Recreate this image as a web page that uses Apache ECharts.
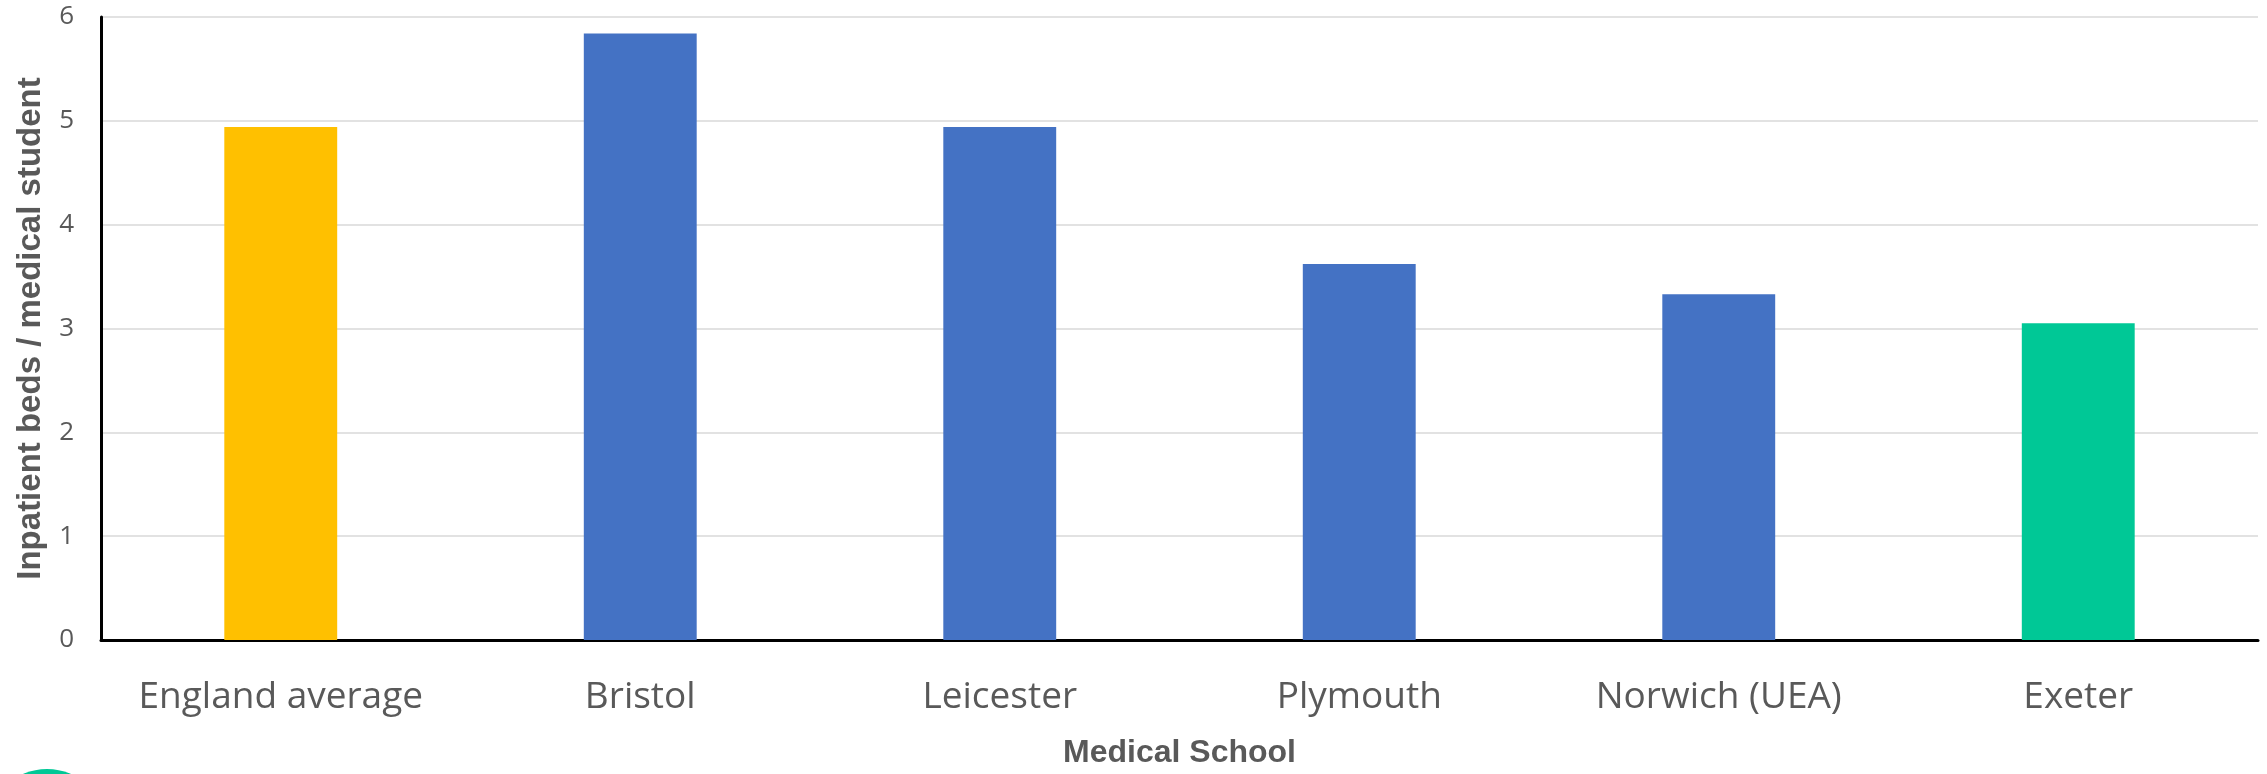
<!DOCTYPE html>
<html>
<head>
<meta charset="utf-8">
<script src="https://cdn.jsdelivr.net/npm/echarts@6/dist/echarts.min.js"></script>
<style>
html,body{margin:0;padding:0;background:#fff;}
#chart{width:2267px;height:774px;}
</style>
</head>
<body>
<div id="chart"></div>
<script>
const categories = ['England average', 'Bristol', 'Leicester', 'Plymouth', 'Norwich (UEA)', 'Exeter'];
const bedsPerStudent = [4.94, 5.84, 4.94, 3.62, 3.33, 3.05];
const yTicks = [0, 1, 2, 3, 4, 5, 6];
const barColors = ['#FFC000', '#4472C4', '#4472C4', '#4472C4', '#4472C4', '#00C896'];

const chart = echarts.init(document.getElementById('chart'), null, {renderer: 'canvas'});
chart.setOption({
  animation: false,
  backgroundColor: '#ffffff',
  grid: {left: 101, right: 9, top: 17, bottom: 127, containLabel: false},
  xAxis: {
    type: 'category',
    data: categories,
    name: 'Medical School',
    nameLocation: 'middle',
    nameGap: 97,
    nameTextStyle: {fontFamily: 'Liberation Sans', fontWeight: 'bold', fontSize: 32, color: '#595959'},
    axisLine: {show: true, lineStyle: {color: '#000000', width: 3}},
    axisTick: {show: false},
    axisLabel: {fontFamily: 'Open Sans', fontSize: 37, color: '#595959', margin: 39, interval: 0}
  },
  yAxis: {
    type: 'value',
    min: yTicks[0],
    max: yTicks[yTicks.length - 1],
    interval: 1,
    name: 'Inpatient beds / medical student',
    nameLocation: 'middle',
    nameGap: 54,
    nameRotate: 90,
    nameTextStyle: {fontFamily: 'Liberation Sans', fontWeight: 'bold', fontSize: 33, color: '#595959'},
    axisLine: {show: true, lineStyle: {color: '#000000', width: 3}},
    axisTick: {show: false},
    axisLabel: {fontFamily: 'Open Sans', fontSize: 26, color: '#595959', margin: 27},
    splitLine: {show: true, lineStyle: {color: '#d9d9d9', width: 1.5}}
  },
  series: [{
    type: 'bar',
    barWidth: '31.4%',
    data: bedsPerStudent.map((v, i) => ({value: v, itemStyle: {color: barColors[i]}})),
    z: 1
  }],
  graphic: [{
    type: 'circle',
    shape: {cx: 47, cy: 829, r: 60},
    style: {fill: '#00C896'},
    silent: true
  }]
});
</script>
</body>
</html>
